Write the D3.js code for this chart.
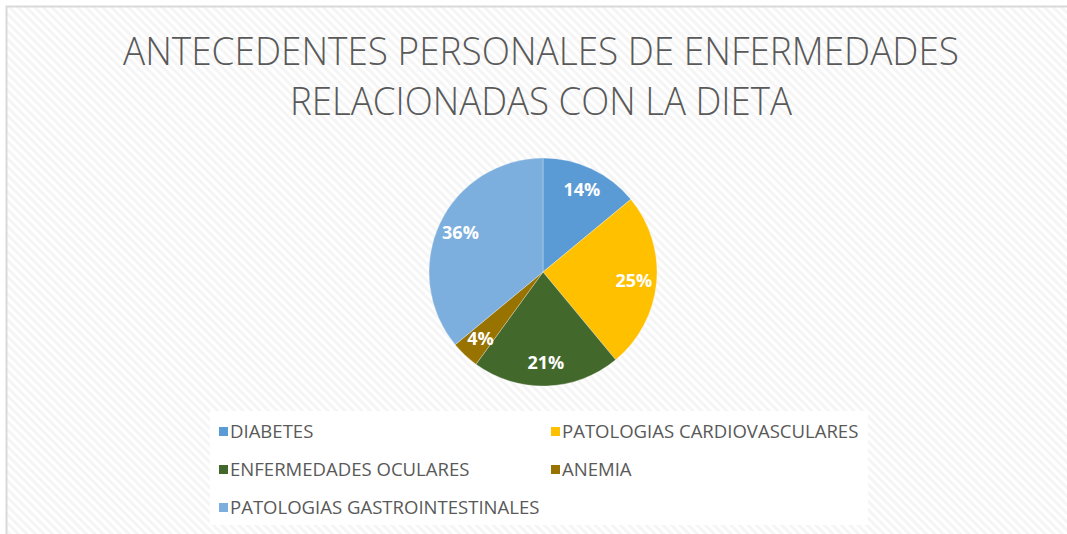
<!DOCTYPE html>
<html>
<head>
<meta charset="utf-8">
<script src="https://cdn.jsdelivr.net/npm/d3@7"></script>
<style>
  body { margin: 0; background: #fff; }
  svg { display: block; }
</style>
</head>
<body>
<svg id="chart"></svg>
<script>
const w = 1067;
const h = 534;

const categories = ["DIABETES", "PATOLOGIAS CARDIOVASCULARES", "ENFERMEDADES OCULARES", "ANEMIA", "PATOLOGIAS GASTROINTESTINALES"];
const values = [14, 25, 21, 4, 36];
const colors = ["#5b9bd5", "#ffc000", "#43682b", "#997300", "#7cafdd"];
const titleLines = ["ANTECEDENTES PERSONALES DE ENFERMEDADES", "RELACIONADAS CON LA DIETA"];

const svg = d3.select("#chart").attr("width", w).attr("height", h);

// hatched background
const defs = svg.append("defs");
const pat = defs.append("pattern")
    .attr("id", "hatch")
    .attr("patternUnits", "userSpaceOnUse")
    .attr("width", 6).attr("height", 6)
    .attr("patternTransform", "rotate(-45)");
pat.append("rect").attr("width", 6).attr("height", 6).attr("fill", "#ffffff");
pat.append("rect").attr("width", 3).attr("height", 6).attr("fill", "#f5f5f5");

svg.append("rect")
   .attr("x", 6.5).attr("y", 6.5)
   .attr("width", w).attr("height", h)
   .attr("fill", "url(#hatch)")
   .attr("stroke", "#d9d9d9")
   .attr("stroke-width", 2);

// title
svg.selectAll(".title")
   .data(titleLines)
   .enter()
   .append("text")
   .attr("class", "title")
   .attr("x", 541)
   .attr("y", (d, i) => 65 + i * 50)
   .attr("text-anchor", "middle")
   .attr("font-family", "Open Sans, sans-serif")
   .attr("font-weight", 300)
   .attr("font-size", 38)
   .attr("fill", "#595959")
   .attr("textLength", (d, i) => i === 0 ? 836 : 502)
   .attr("lengthAdjust", "spacingAndGlyphs")
   .text(d => d);

// pie
const cx = 543, cy = 272, r = 114;
const pie = d3.pie().sort(null).value(d => d);
const arc = d3.arc().innerRadius(0).outerRadius(r);
const labelArc = d3.arc().innerRadius(r * 0.8).outerRadius(r * 0.8);

const g = svg.append("g").attr("transform", `translate(${cx}, ${cy})`);
const arcs = pie(values);

g.selectAll("path")
 .data(arcs)
 .enter()
 .append("path")
 .attr("d", arc)
 .attr("fill", (d, i) => colors[i])
 .attr("stroke", "#ffffff")
 .attr("stroke-width", 0.3);

g.selectAll(".lbl")
 .data(arcs)
 .enter()
 .append("text")
 .attr("class", "lbl")
 .attr("transform", d => `translate(${labelArc.centroid(d)})`)
 .attr("text-anchor", "middle")
 .attr("dy", "0.35em")
 .attr("font-family", "Open Sans, sans-serif")
 .attr("font-weight", "bold")
 .attr("font-size", 18)
 .attr("fill", "#ffffff")
 .text(d => d.data + "%");

// legend
svg.append("rect")
   .attr("x", 210).attr("y", 411)
   .attr("width", 658).attr("height", 114)
   .attr("fill", "#ffffff");

const legend = svg.selectAll(".leg")
   .data(categories)
   .enter()
   .append("g")
   .attr("class", "leg")
   .attr("transform", (d, i) => `translate(${i % 2 === 0 ? 219 : 551}, ${432 + Math.floor(i / 2) * 38})`);

legend.append("rect")
   .attr("x", 0).attr("y", -5)
   .attr("width", 9).attr("height", 9)
   .attr("fill", (d, i) => colors[i]);

legend.append("text")
   .attr("x", 11)
   .attr("y", 0)
   .attr("dy", "0.35em")
   .attr("font-family", "Open Sans, sans-serif")
   .attr("font-size", 18)
   .attr("fill", "#595959")
   .each(function(d) {
       // original face is a touch wider-spaced
       const t = d3.select(this).text(d);
       const len = this.getComputedTextLength();
       t.attr("textLength", len * 1.03).attr("lengthAdjust", "spacingAndGlyphs");
   });
</script>
</body>
</html>
